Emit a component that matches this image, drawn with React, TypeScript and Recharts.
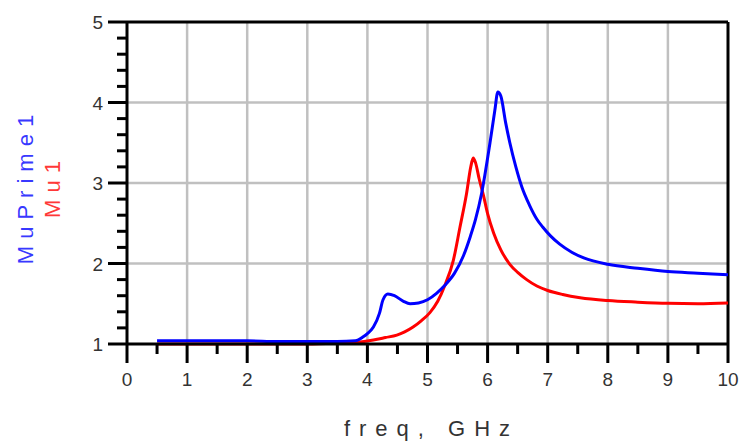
import React from 'react';
import {
  LineChart,
  Line,
  XAxis,
  YAxis,
  CartesianGrid,
  ReferenceLine,
} from 'recharts';

// MuPrime1 (blue) samples
const freqBlue = [
  0.5, 1, 2, 2.5, 3, 3.5, 3.8, 3.93, 4.0, 4.1, 4.2, 4.26, 4.34, 4.45, 4.6, 4.71, 4.85, 5.0, 5.15,
  5.29, 5.45, 5.6, 5.71, 5.8, 5.9, 6.04, 6.12, 6.17, 6.22, 6.3, 6.37, 6.47, 6.57, 6.7, 6.82, 6.92,
  7.05, 7.2, 7.4, 7.6, 8.0, 8.5, 9.0, 9.5, 10,
];
const muPrime = [
  1.04, 1.04, 1.04, 1.03, 1.03, 1.03, 1.04, 1.09, 1.13, 1.21, 1.38, 1.55, 1.62, 1.6, 1.53, 1.5,
  1.51, 1.55, 1.63, 1.73, 1.88, 2.1, 2.33, 2.55, 2.87, 3.5, 3.9, 4.13, 4.08, 3.75, 3.5, 3.2, 2.95,
  2.72, 2.55, 2.45, 2.34, 2.24, 2.14, 2.07, 1.99, 1.94, 1.9, 1.88, 1.86,
];

// Mu1 (red) samples
const freqRed = [
  0.5, 1, 2, 3, 3.5, 3.8, 4.1, 4.3, 4.49, 4.62, 4.76, 4.9, 5.04, 5.17, 5.29, 5.43, 5.54, 5.65,
  5.72, 5.76, 5.8, 5.86, 5.93, 6.0, 6.1, 6.22, 6.37, 6.5, 6.65, 6.82, 7.0, 7.25, 7.54, 8.0, 8.5,
  9.0, 9.5, 10,
];
const mu = [
  1.0, 1.0, 1.0, 1.0, 1.01, 1.02, 1.05, 1.08, 1.11, 1.15, 1.21, 1.29, 1.39, 1.53, 1.73, 2.04, 2.45,
  2.87, 3.2, 3.31, 3.25, 3.05, 2.85, 2.62, 2.38, 2.17, 1.99, 1.89, 1.8, 1.72, 1.665, 1.615, 1.575,
  1.54, 1.52, 1.505, 1.5, 1.51,
];

const xTicks = [0, 0.5, 1, 1.5, 2, 2.5, 3, 3.5, 4, 4.5, 5, 5.5, 6, 6.5, 7, 7.5, 8, 8.5, 9, 9.5, 10];
const yTicks = [1, 1.2, 1.4, 1.6, 1.8, 2, 2.2, 2.4, 2.6, 2.8, 3, 3.2, 3.4, 3.6, 3.8, 4, 4.2, 4.4, 4.6, 4.8, 5];
const xGrid = [1, 2, 3, 4, 5, 6, 7, 8, 9];
const yGrid = [2, 3, 4];

const blueData = freqBlue.map((f, i) => ({ f, v: muPrime[i] }));
const redData = freqRed.map((f, i) => ({ f, v: mu[i] }));

const FONT = '"Liberation Sans", Arial, sans-serif';
const TEXT = '#333';

const XTick = (props: any) => {
  const { x, y, payload } = props;
  const major = Number.isInteger(payload.value);
  return (
    <g>
      <line x1={x} y1={y} x2={x} y2={y + (major ? 19 : 10)} stroke="#000" strokeWidth={3} />
      {major && (
        <text x={x} y={y + 42} textAnchor="middle" fontFamily={FONT} fontSize={19} fill={TEXT}>
          {payload.value}
        </text>
      )}
    </g>
  );
};

const YTick = (props: any) => {
  const { x, y, payload } = props;
  const major = Math.abs(payload.value - Math.round(payload.value)) < 1e-6;
  return (
    <g>
      <line x1={x} y1={y} x2={x - (major ? 19 : 10)} y2={y} stroke="#000" strokeWidth={3} />
      {major && (
        <text x={x - 24} y={y + 7} textAnchor="end" fontFamily={FONT} fontSize={19} fill={TEXT}>
          {Math.round(payload.value)}
        </text>
      )}
    </g>
  );
};

const YLabel = (props: any) => {
  const vb = props.viewBox;
  const cy = vb.y + vb.height / 2 + 3;
  return (
    <g fontFamily={FONT} fontSize={22} letterSpacing={7}>
      <text x={25} y={cy} transform={`rotate(-90, 25, ${cy})`} textAnchor="middle" dominantBaseline="central" fill="#3838ff">
        MuPrime1
      </text>
      <text x={52} y={cy} transform={`rotate(-90, 52, ${cy})`} textAnchor="middle" dominantBaseline="central" fill="#ff3838">
        Mu1
      </text>
    </g>
  );
};

const XLabel = (props: any) => {
  const vb = props.viewBox;
  return (
    <text
      x={vb.x + vb.width / 2 + 4}
      y={436}
      textAnchor="middle"
      fontFamily={FONT}
      fontSize={22}
      letterSpacing={9}
      fill={TEXT}
    >
      freq, GHz
    </text>
  );
};

export default function App() {
  return (
    <div style={{ position: 'absolute', left: 0, top: 0, background: '#fff' }}>
      <LineChart width={746} height={447} margin={{ top: 22, right: 18, bottom: 43, left: 67 }}>
        <CartesianGrid
          stroke="#c0c0c0"
          strokeWidth={2.5}
          verticalValues={xGrid}
          horizontalValues={yGrid}
        />
        <XAxis
          type="number"
          dataKey="f"
          domain={[0, 10]}
          ticks={xTicks}
          interval={0}
          height={60}
          tickSize={0}
          tickMargin={0}
          tickLine={false}
          axisLine={{ stroke: '#000', strokeWidth: 3 }}
          tick={<XTick />}
          label={<XLabel />}
          allowDuplicatedCategory={false}
        />
        <YAxis
          type="number"
          domain={[1, 5]}
          ticks={yTicks}
          interval={0}
          width={60}
          tickSize={0}
          tickMargin={0}
          tickLine={false}
          axisLine={{ stroke: '#000', strokeWidth: 3 }}
          tick={<YTick />}
          label={<YLabel />}
        />
        <ReferenceLine y={5} stroke="#000" strokeWidth={3} />
        <ReferenceLine x={10} stroke="#000" strokeWidth={3} />
        <Line
          data={redData}
          dataKey="v"
          type="monotone"
          stroke="#ff0000"
          strokeWidth={3}
          dot={false}
          isAnimationActive={false}
        />
        <Line
          data={blueData}
          dataKey="v"
          type="monotone"
          stroke="#0000ff"
          strokeWidth={3}
          dot={false}
          isAnimationActive={false}
        />
      </LineChart>
    </div>
  );
}
